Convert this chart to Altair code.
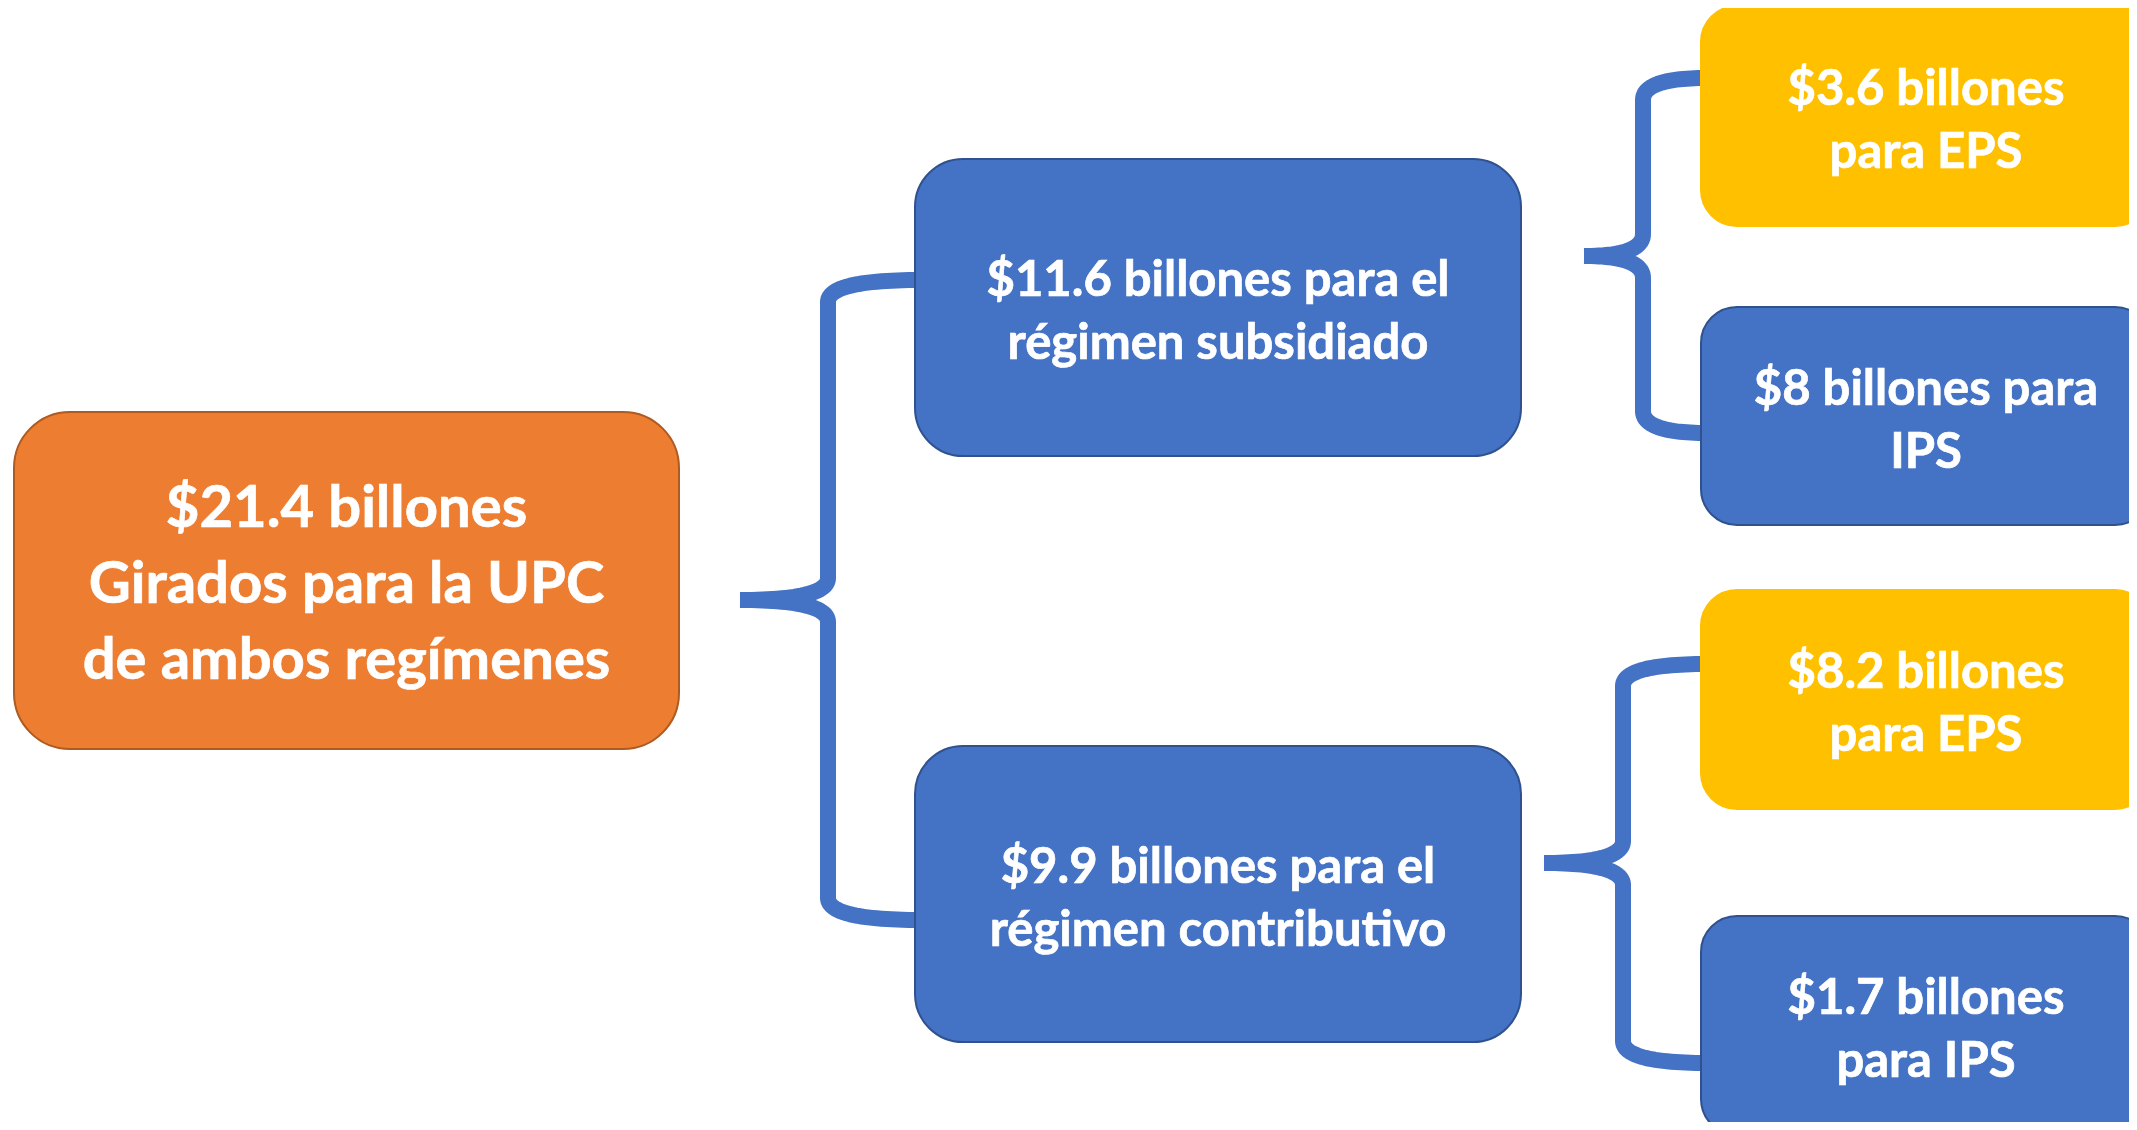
import altair as alt
import pandas as pd
import numpy as np

# ---------------- content ----------------
labels = [
    "$21.4 billones\nGirados para la UPC\nde ambos regímenes",
    "$11.6 billones para el\nrégimen subsidiado",
    "$9.9 billones para el\nrégimen contributivo",
    "$3.6 billones\npara EPS",
    "$8 billones para\nIPS",
    "$8.2 billones\npara EPS",
    "$1.7 billones\npara IPS",
]
amounts = [21.4, 11.6, 9.9, 3.6, 8.0, 8.2, 1.7]
kinds = ["total", "regimen", "regimen", "eps", "ips", "eps", "ips"]
levels = [0, 1, 1, 2, 2, 2, 2]
parents = [None, 0, 0, 1, 1, 2, 2]

# ---------------- layout (pixels) ----------------
box_x0 = [14, 915, 915, 1701, 1701, 1701, 1701]
box_x1 = [679, 1521, 1521, 2151, 2151, 2151, 2151]
box_y0 = [412, 159, 746, 6, 307, 590, 916]
box_y1 = [749, 456, 1042, 226, 525, 809, 1135]

level_radius = [56, 48, 36]
level_font = [58, 49, 49]
level_lineheight = [76, 63, 63]
text_shift = 5

fill_by_kind = {"total": "#ED7D31", "regimen": "#4472C4", "eps": "#FFC000", "ips": "#4472C4"}
stroke_by_kind = {"total": "#AE5A21", "regimen": "#2F528F", "eps": "#FFC000", "ips": "#2F528F"}
BRACE = "#4472C4"

# brace geometry for each parent: tip x, stem x, mid y, top arm y, bottom arm y, arm end x
brace_parent = [0, 1, 2]
brace_tip = [740, 1584, 1544]
brace_stem = [828, 1643, 1623]
brace_mid = [600, 256, 863]
brace_top = [280, 78, 664]
brace_bot = [920, 433, 1063]
brace_arm = [921, 1707, 1707]

W, H = 2121, 1114
OX, OY = 8, 8
xs = alt.Scale(domain=[OX, OX + W], nice=False, zero=False)
ys = alt.Scale(domain=[OY, OY + H], nice=False, zero=False, reverse=True)


def qbez(p0, p1, p2, n=30):
    t = np.linspace(0, 1, n)
    x = (1 - t) ** 2 * p0[0] + 2 * (1 - t) * t * p1[0] + t ** 2 * p2[0]
    y = (1 - t) ** 2 * p0[1] + 2 * (1 - t) * t * p1[1] + t ** 2 * p2[1]
    return list(zip(x, y))


rows = []
for b in range(len(brace_parent)):
    tip, stem, ym = brace_tip[b], brace_stem[b], brace_mid[b]
    for half, ya in (("t", brace_top[b]), ("b", brace_bot[b])):
        s = 1 if half == "t" else -1
        pts = []
        pts += qbez((brace_arm[b], ya), (stem, ya), (stem, ya + s * 22))
        pts += qbez((stem, ym - s * 22), (stem, ym), (tip, ym))
        for i, (x, y) in enumerate(pts):
            rows.append({"x": x, "y": y, "path": f"{b}{half}", "i": i})
brace_df = pd.DataFrame(rows)

box_df = pd.DataFrame({
    "label": labels,
    "amount": amounts,
    "kind": kinds,
    "level": levels,
    "x0": box_x0, "x1": box_x1, "y0": box_y0, "y1": box_y1,
})
box_df["cx"] = (box_df.x0 + box_df.x1) / 2
box_df["cy"] = (box_df.y0 + box_df.y1) / 2
box_df["nlines"] = box_df.label.str.count("\n") + 1
box_df["ty"] = [
    cy - (n - 1) * level_lineheight[lv] / 2 + text_shift
    for cy, n, lv in zip(box_df.cy, box_df.nlines, box_df.level)
]
box_df["fill"] = box_df.kind.map(fill_by_kind)
box_df["stroke"] = box_df.kind.map(stroke_by_kind)

braces = alt.Chart(brace_df).mark_line(
    strokeWidth=16, strokeCap="butt", strokeJoin="round", color=BRACE
).encode(
    x=alt.X("x:Q", scale=xs, axis=None),
    y=alt.Y("y:Q", scale=ys, axis=None),
    detail="path:N",
    order="i:Q",
)

layers = [braces]
for lv in range(3):
    d = box_df[box_df.level == lv]
    rect = alt.Chart(d).mark_rect(cornerRadius=level_radius[lv], strokeWidth=2).encode(
        x=alt.X("x0:Q", scale=xs, axis=None),
        x2="x1:Q",
        y=alt.Y("y0:Q", scale=ys, axis=None),
        y2="y1:Q",
        color=alt.Color("fill:N", scale=None),
        stroke=alt.Stroke("stroke:N", scale=None),
    )
    layers.append(rect)
for lv in range(3):
    d = box_df[box_df.level == lv]
    txt = alt.Chart(d).mark_text(
        font="Lato", fontWeight="bold", fontSize=level_font[lv],
        lineHeight=level_lineheight[lv], align="center", baseline="middle",
        color="white", stroke="white", strokeWidth=0.7, lineBreak="\n",
    ).encode(
        x=alt.X("cx:Q", scale=xs, axis=None),
        y=alt.Y("ty:Q", scale=ys, axis=None),
        text="label:N",
    )
    layers.append(txt)

chart = alt.layer(*layers).properties(
    width=W, height=H, padding=0, autosize="none", background="white"
).configure_view(stroke=None)

chart.save("out.html", embed_options={"renderer": "svg", "actions": False})
